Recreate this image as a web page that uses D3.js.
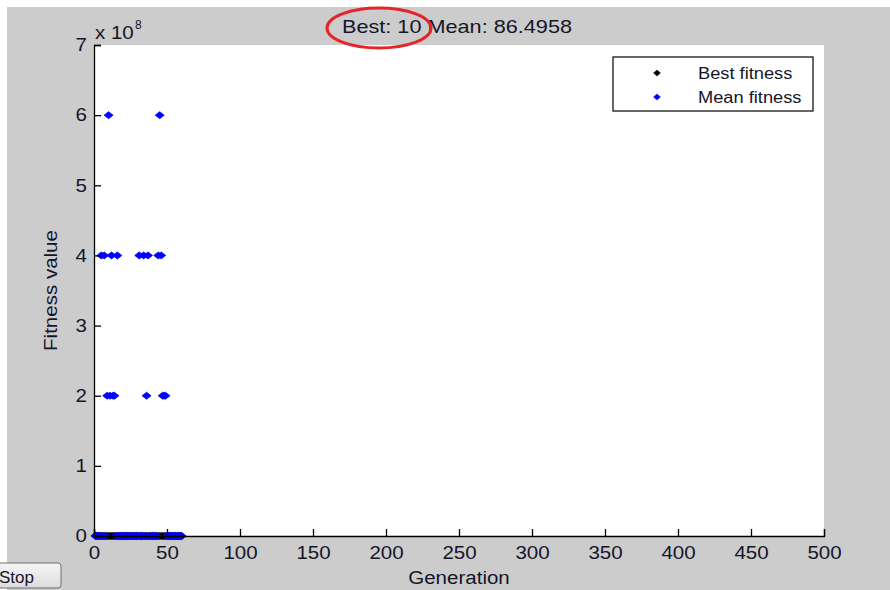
<!DOCTYPE html>
<html>
<head>
<meta charset="utf-8">
<script src="https://cdn.jsdelivr.net/npm/d3@7"></script>
<style>
  body { margin: 0; background: #fff; }
  text { font-family: "Liberation Sans", Arial, sans-serif; fill: #15152a; }
</style>
</head>
<body>
<svg id="chart" width="890" height="590"></svg>
<script>
// generations run 1..60 (near-zero ones are just small)
var generations = [1,2,3,4,5,6,7,8,9,10,11,12,13,14,15,16,17,18,19,20,
                   21,22,23,24,25,26,27,28,29,30,31,32,33,34,35,36,37,38,39,40,
                   41,42,43,44,45,46,47,48,49,50,51,52,53,54,55,56,57,58,59,60];

var bestFitness = [24000,15800,9600,7100,5200,4100,3300,2600,1900,1500,
                   1200,980,840,700,610,520,460,400,350,300,
                   260,230,200,180,160,140,120,105,92,80,
                   70,62,55,48,42,37,33,30,27,24,
                   22,20,18,17,16,15,14,13,12,12,
                   11,11,11,10,10,10,10,10,10,10];

var meanFitness = [3.1e5,1.8e5,9.4e4,5.2e4,4e8,2.7e4,4e8,1.5e4,2e8,6e8,
                   2e8,4e8,2e8,2e8,8100,4e8,6400,5200,4300,3600,
                   3000,2500,2100,1800,1500,1300,1100,950,820,700,
                   4e8,610,540,4e8,480,2e8,4e8,430,390,350,
                   320,290,260,4e8,6e8,4e8,2e8,2e8,2e8,240,
                   210,190,170,150,135,120,110,100,92,86.4958];

var xTicks = [0,50,100,150,200,250,300,350,400,450,500];
var yTicks = [0,1e8,2e8,3e8,4e8,5e8,6e8,7e8];

var series = [
  {name: "Best fitness", color: "#000000", values: bestFitness},
  {name: "Mean fitness", color: "#0000ff", values: meanFitness}
];

var margin = {left: 94, right: 66, top: 45, bottom: 54},
    W = 890, H = 590,
    stretch = 1.14;

var svg = d3.select("#chart");

var x = d3.scaleLinear().domain([0, 500]).range([margin.left, W - margin.right]);
var y = d3.scaleLinear().domain([0, 7e8]).range([H - margin.bottom, margin.top]);

// figure background
svg.append("rect").attr("width", W).attr("height", H).attr("fill", "#fff");
svg.append("rect").attr("x", 7).attr("y", 7).attr("width", W - 7).attr("height", H - 7).attr("fill", "#cccccc");

// plot area
svg.append("rect")
    .attr("x", x(0)).attr("y", y(7e8))
    .attr("width", x(500) - x(0)).attr("height", y(0) - y(7e8))
    .attr("fill", "#fff");

function diamond(w, h) {
  return "M0," + (-h / 2) + "L" + (w / 2) + ",0L0," + (h / 2) + "L" + (-w / 2) + ",0Z";
}

// widen text a bit, the screenshot is stretched horizontally
function widen(sel) {
  sel.each(function() {
    var len = this.getComputedTextLength();
    d3.select(this).attr("textLength", len * stretch).attr("lengthAdjust", "spacingAndGlyphs");
  });
}

// points
series.forEach(function(s) {
  svg.append("g")
    .selectAll("path")
    .data(generations.map((g, i) => [g, s.values[i]]))
    .join("path")
      .attr("transform", d => "translate(" + x(d[0]) + "," + y(d[1]) + ")")
      .attr("d", diamond(9, 7))
      .attr("fill", s.color)
      .attr("stroke", s.color)
      .attr("stroke-width", 0.8);
});

// axes (MATLAB style, inward ticks, no box)
var xAxis = svg.append("g")
    .attr("transform", "translate(0," + y(0) + ")")
    .call(d3.axisBottom(x).tickValues(xTicks).tickSize(-7).tickPadding(10).tickFormat(d3.format("d")));
var yAxis = svg.append("g")
    .attr("transform", "translate(" + x(0) + ",0)")
    .call(d3.axisLeft(y).tickValues(yTicks).tickSize(-7).tickPadding(7).tickFormat(d => d / 1e8));

[xAxis, yAxis].forEach(function(a) {
  a.select(".domain").attr("stroke", "#000").attr("stroke-width", 1.3);
  a.selectAll(".tick line").attr("stroke", "#000").attr("stroke-width", 1.3);
  a.selectAll(".tick text")
      .attr("font-size", "18px")
      .attr("fill", "#15152a")
      .style("font-family", "'Liberation Sans', Arial, sans-serif")
      .call(widen);
});
xAxis.selectAll(".tick text").attr("y", 10).attr("dy", "0.71em");

// exponent label
var expo = svg.append("text").attr("x", x(0) + 1).attr("y", 39).attr("font-size", "18px");
expo.append("tspan").text("x 10");
expo.call(widen);
svg.append("text").attr("x", 135).attr("y", 29).attr("font-size", "12px").text("8");

// axis labels
svg.append("text")
    .attr("x", (x(0) + x(500)) / 2).attr("y", 584)
    .attr("text-anchor", "middle").attr("font-size", "18px")
    .text("Generation").call(widen);

svg.append("text")
    .attr("transform", "translate(57," + y(3.5e8) + ") rotate(-90)")
    .attr("text-anchor", "middle").attr("font-size", "18px")
    .text("Fitness value").call(widen);

// title
svg.append("text")
    .attr("x", 457).attr("y", 33)
    .attr("text-anchor", "middle").attr("font-size", "19px")
    .text("Best: " + bestFitness[bestFitness.length - 1] + " Mean: " + meanFitness[meanFitness.length - 1])
    .call(widen);

// hand-drawn red ring round "Best: 10"
svg.append("ellipse")
    .attr("cx", 379).attr("cy", 28).attr("rx", 52).attr("ry", 20)
    .attr("fill", "none").attr("stroke", "#e3262a").attr("stroke-width", 3);

// legend
var legend = svg.append("g").attr("transform", "translate(613,57)");
legend.append("rect").attr("width", 200).attr("height", 54)
    .attr("fill", "#fff").attr("stroke", "#000").attr("stroke-width", 1.2);
series.forEach(function(s, i) {
  legend.append("path")
      .attr("transform", "translate(44," + (16 + i * 24) + ")")
      .attr("d", diamond(7, 6)).attr("fill", s.color).attr("stroke", s.color).attr("stroke-width", 0.5);
  legend.append("text")
      .attr("x", 85).attr("y", 22 + i * 24)
      .attr("font-size", "16px")
      .text(s.name).call(widen);
});

// Stop button (cut at the left edge)
var grad = svg.append("defs").append("linearGradient")
    .attr("id", "btn").attr("x1", 0).attr("y1", 0).attr("x2", 0).attr("y2", 1);
grad.append("stop").attr("offset", "0%").attr("stop-color", "#f6f6f6");
grad.append("stop").attr("offset", "100%").attr("stop-color", "#dcdcdc");
svg.append("rect")
    .attr("x", -6).attr("y", 563).attr("width", 67).attr("height", 25).attr("rx", 3)
    .attr("fill", "url(#btn)").attr("stroke", "#6e6e6e");
svg.append("text").attr("x", -1).attr("y", 583).attr("font-size", "17px").text("Stop");
</script>
</body>
</html>
